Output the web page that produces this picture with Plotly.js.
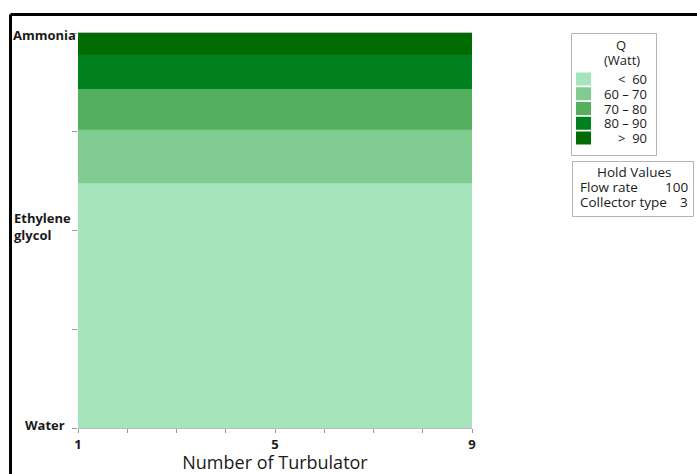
<!DOCTYPE html>
<html>
<head>
<meta charset="utf-8">
<script src="https://cdn.plot.ly/plotly-3.0.1.min.js"></script>
<style>
  html, body { margin: 0; padding: 0; background: #fff; }
  #chart { width: 697px; height: 474px; }
</style>
</head>
<body>
<div id="chart"></div>
<script>
// Contour of heat gain Q (Watt) over number of turbulators and working fluid
const turbulators = [1, 5, 9];
const fluidNames = ['Water', 'Ethylene<br>glycol', 'Ammonia'];
const fluidCodes = [1, 2, 3];
// fitted Q along the fluid axis (coded 1 = Water ... 3 = Ammonia)
const fluidGrid = [1, 1.5, 2, 2.2, 2.4, 2.6, 2.8, 3];
const qValues = [45, 49, 54.2, 58.7, 65.3, 73.8, 84.4, 96.9];

const bandLabels = ['<  60', '60 – 70', '70 – 80', '80 – 90', '>  90'];
const bandColors = ['#a6e4bb', '#80cb8f', '#54b05e', '#00801f', '#006b00'];
const holdNames = ['Flow rate', 'Collector type'];
const holdValues = ['100', '3'];

const W = 697, H = 474;
const L = 78, R = 472, T = 33, B = 428;
const px = v => (v - L) / (R - L);
const py = v => (B - v) / (B - T);

const FONT = 'Open Sans, Noto Sans, sans-serif';
const INK = '#1a1a1a';
const LEG = 13;

const z = fluidGrid.map((_, i) => turbulators.map(() => qValues[i]));

const trace = {
  type: 'contour',
  x: turbulators,
  y: fluidGrid,
  z: z,
  autocontour: false,
  contours: { start: 60, end: 90, size: 10, coloring: 'fill', showlines: false },
  line: { width: 0 },
  colorscale: bandColors.map((c, i) => [i / (bandColors.length - 1), c]),
  showscale: false,
  hoverinfo: 'skip'
};

const shapes = [];
const annotations = [];

function note(text, x, y, xanchor, size) {
  annotations.push({ text: text, xref: 'paper', yref: 'paper', x: px(x), y: py(y),
    xanchor: xanchor, yanchor: 'middle', showarrow: false, borderpad: 0,
    font: { family: FONT, size: size || LEG, color: INK } });
}

// outer frame lines
shapes.push({ type: 'line', xref: 'paper', yref: 'paper',
  x0: px(10.5), x1: px(697), y0: py(14.5), y1: py(14.5),
  line: { color: '#000', width: 3 } });
shapes.push({ type: 'line', xref: 'paper', yref: 'paper',
  x0: px(10.5), x1: px(10.5), y0: py(14.5), y1: py(474),
  line: { color: '#000', width: 3 } });

// fluid labels on the left
const labelLeft = [24, 13, 12];
const labelY = [1.015, 2.02, 2.99];
fluidNames.forEach((n, i) => {
  annotations.push({ text: '<b>' + n + '</b>', xref: 'paper', yref: 'y',
    x: px(labelLeft[i]), y: labelY[i], xanchor: 'left', yanchor: 'middle',
    align: 'left', showarrow: false, borderpad: 0,
    font: { family: FONT, size: 13, color: INK } });
});

// Q legend box
shapes.push({ type: 'rect', xref: 'paper', yref: 'paper',
  x0: px(571.5), x1: px(656.5), y0: py(33.5), y1: py(155.5),
  line: { color: '#b4b4b4', width: 1 }, fillcolor: 'rgba(0,0,0,0)' });
note('Q', 621, 44.5, 'center');
note('(Watt)', 622, 59.5, 'center');
bandLabels.forEach((lab, i) => {
  const top = 72.5 + i * 14.75;
  shapes.push({ type: 'rect', xref: 'paper', yref: 'paper',
    x0: px(576), x1: px(591), y0: py(top), y1: py(top + 13),
    line: { width: 0 }, fillcolor: bandColors[i] });
  note(lab, 648, top + 6.5, 'right');
});

// Hold values box
shapes.push({ type: 'rect', xref: 'paper', yref: 'paper',
  x0: px(572.5), x1: px(693.5), y0: py(161.5), y1: py(216.5),
  line: { color: '#b4b4b4', width: 1 }, fillcolor: 'rgba(0,0,0,0)' });
note('Hold Values', 634, 172, 'center', 13.5);
holdNames.forEach((n, i) => {
  const yy = 187 + i * 15;
  note(n, 579, yy, 'left', 13.5);
  note(holdValues[i], 689, yy, 'right', 13.5);
});

const xTicks = [1, 2, 3, 4, 5, 6, 7, 8, 9];
const xTickText = xTicks.map(v => (v === 1 || v === 5 || v === 9) ? '<b>' + v + '</b>' : '');

const layout = {
  width: W, height: H,
  margin: { l: L, r: W - R, t: T, b: H - B, pad: 0 },
  paper_bgcolor: '#fff', plot_bgcolor: '#fff',
  showlegend: false,
  font: { family: FONT, color: INK },
  xaxis: {
    range: [1, 9], tickmode: 'array', tickvals: xTicks, ticktext: xTickText,
    ticks: 'outside', ticklen: 4, tickcolor: '#9a9a9a', tickwidth: 1,
    showline: true, linecolor: '#bdbdbd', linewidth: 1, mirror: true,
    showgrid: false, zeroline: false, automargin: false,
    tickfont: { family: FONT, size: 13, color: INK },
    title: { text: 'Number of Turbulator', standoff: 4,
      font: { family: FONT, size: 18, color: INK } }
  },
  yaxis: {
    range: [1, 3], tickmode: 'array', tickvals: [1, 1.5, 2, 2.5, 3],
    ticktext: ['', '', '', '', ''],
    ticks: 'outside', ticklen: 5, tickcolor: '#9a9a9a', tickwidth: 1,
    showline: false, showgrid: false, zeroline: false, automargin: false
  },
  shapes: shapes,
  annotations: annotations
};

Plotly.newPlot('chart', [trace], layout, { displayModeBar: false, staticPlot: true });
</script>
</body>
</html>
